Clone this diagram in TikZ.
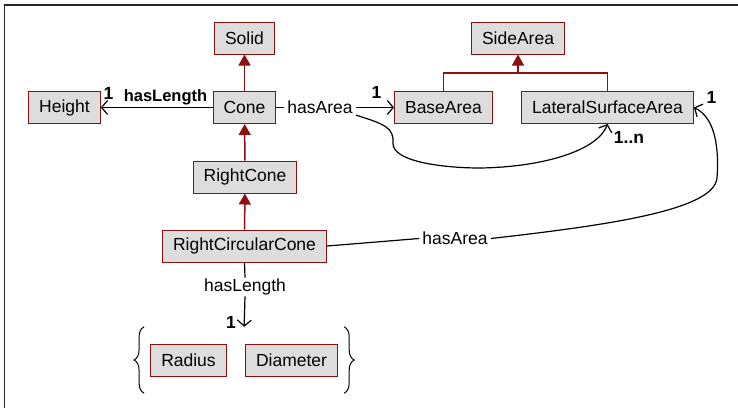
\documentclass[tikz,border=0pt]{standalone}
\usepackage{fontspec}
\setmainfont{Liberation Sans}
\usetikzlibrary{arrows.meta, positioning, fit, decorations.pathreplacing}
\definecolor{clsred}{RGB}{140,16,16}
\definecolor{clsgray}{RGB}{221,221,221}
\tikzset{
  cls/.style={rectangle, draw=clsred, fill=clsgray, line width=1pt, inner xsep=10.5pt, inner ysep=0pt, minimum height=32pt, font=\fontsize{17.5}{20}\selectfont},
  isa/.style={color=clsred, line width=1.5pt, -{Triangle[length=11pt,width=12pt]}},
  isaline/.style={color=clsred, line width=1.5pt},
  rel/.style={line width=1.2pt, -{Straight Barb[length=6pt,width=14pt]}},
  relline/.style={line width=1.2pt},
  lbl/.style={fill=white, inner xsep=3pt, inner ysep=1pt, font=\fontsize{17.5}{20}\selectfont},
  mult/.style={inner sep=0pt, font=\bfseries\fontsize{17.5}{19}\selectfont},
  curly/.style={line width=1pt, decorate, decoration={brace, amplitude=10pt}}
}
\begin{document}
\begin{tikzpicture}[x=1pt, y=-1pt]
  \useasboundingbox (0,0) rectangle (738,408);
  \draw[line width=1.5pt, black!85] (4.5,408) -- (4.5,5) -- (738,5);
  % classes
  \node[cls] (solid) at (244.5,38) {Solid};
  \node[cls] (cone) at (244.5,107.5) {Cone};
  \node[cls] (height) at (64.5,107.5) {Height};
  \node[cls] (rcone) at (245,177) {RightCone};
  \node[cls] (rccone) at (244.5,246) {RightCircularCone};
  \node[cls] (side) at (518,38) {SideArea};
  \node[cls] (base) at (443.5,107.5) {BaseArea};
  \node[cls] (lsa) at (607.5,107.5) {LateralSurfaceArea};
  \node[cls] (radius) at (188.5,360) {Radius};
  \node[cls] (diam) at (291.5,360) {Diameter};
  \node[fit=(radius)(diam), inner xsep=6pt, inner ysep=16.5pt] (lens) {};
  % labels
  \node[lbl] (areaA) at (320,107.5) {hasArea};
  \node[lbl] (areaB) at (455,238.5) {hasArea};
  \node[lbl] (lenB) at (245,287) {hasLength};
  \node[inner sep=0pt, font=\bfseries\fontsize{16.5}{18}\selectfont] (lenA) at (165.5,97) {hasLength};
  \node[mult] (m1) at (108.5,93) {1};
  \node[mult] (m2) at (376.5,92) {1};
  \node[mult] (m3) at (711.5,97) {1};
  \node[mult] (m4) at (231,322) {1};
  \node[mult] (m5) at (629,137) {1..n};
  % inheritance
  \draw[isa] (cone) -- (solid);
  \draw[isa] (rcone) -- (cone);
  \draw[isa] (rccone) -- (rcone);
  \coordinate (sidej) at (518,73);
  \draw[isaline] (base.north) |- (sidej) -| (lsa.north);
  \draw[isa] (sidej) -- (side.south);
  % associations
  \draw[rel] (cone.west) -- (height.east);
  \draw[relline] (cone.east) -- (areaA.west);
  \draw[rel] (areaA.east) -- (base.west);
  \draw[rel] (areaA.south east) .. controls (385,124) and (394,128) .. (393,143)
    .. controls (392,162) and (445,168) .. (480,168)
    .. controls (545,167) and (598,150) .. (lsa.south);
  \draw[relline] (rccone.east) -- (areaB.west);
  \draw[rel] (areaB.east) .. controls (610,225) and (714,210) .. (717,178)
    .. controls (719,150) and (716,118) .. (lsa.east);
  \draw[relline] (rccone.south) -- (lenB.north);
  \draw[rel] (lenB.south) -- (lens.north);
  \draw[curly] (lens.south west) -- (lens.north west);
  \draw[curly] (lens.north east) -- (lens.south east);
\end{tikzpicture}
\end{document}
